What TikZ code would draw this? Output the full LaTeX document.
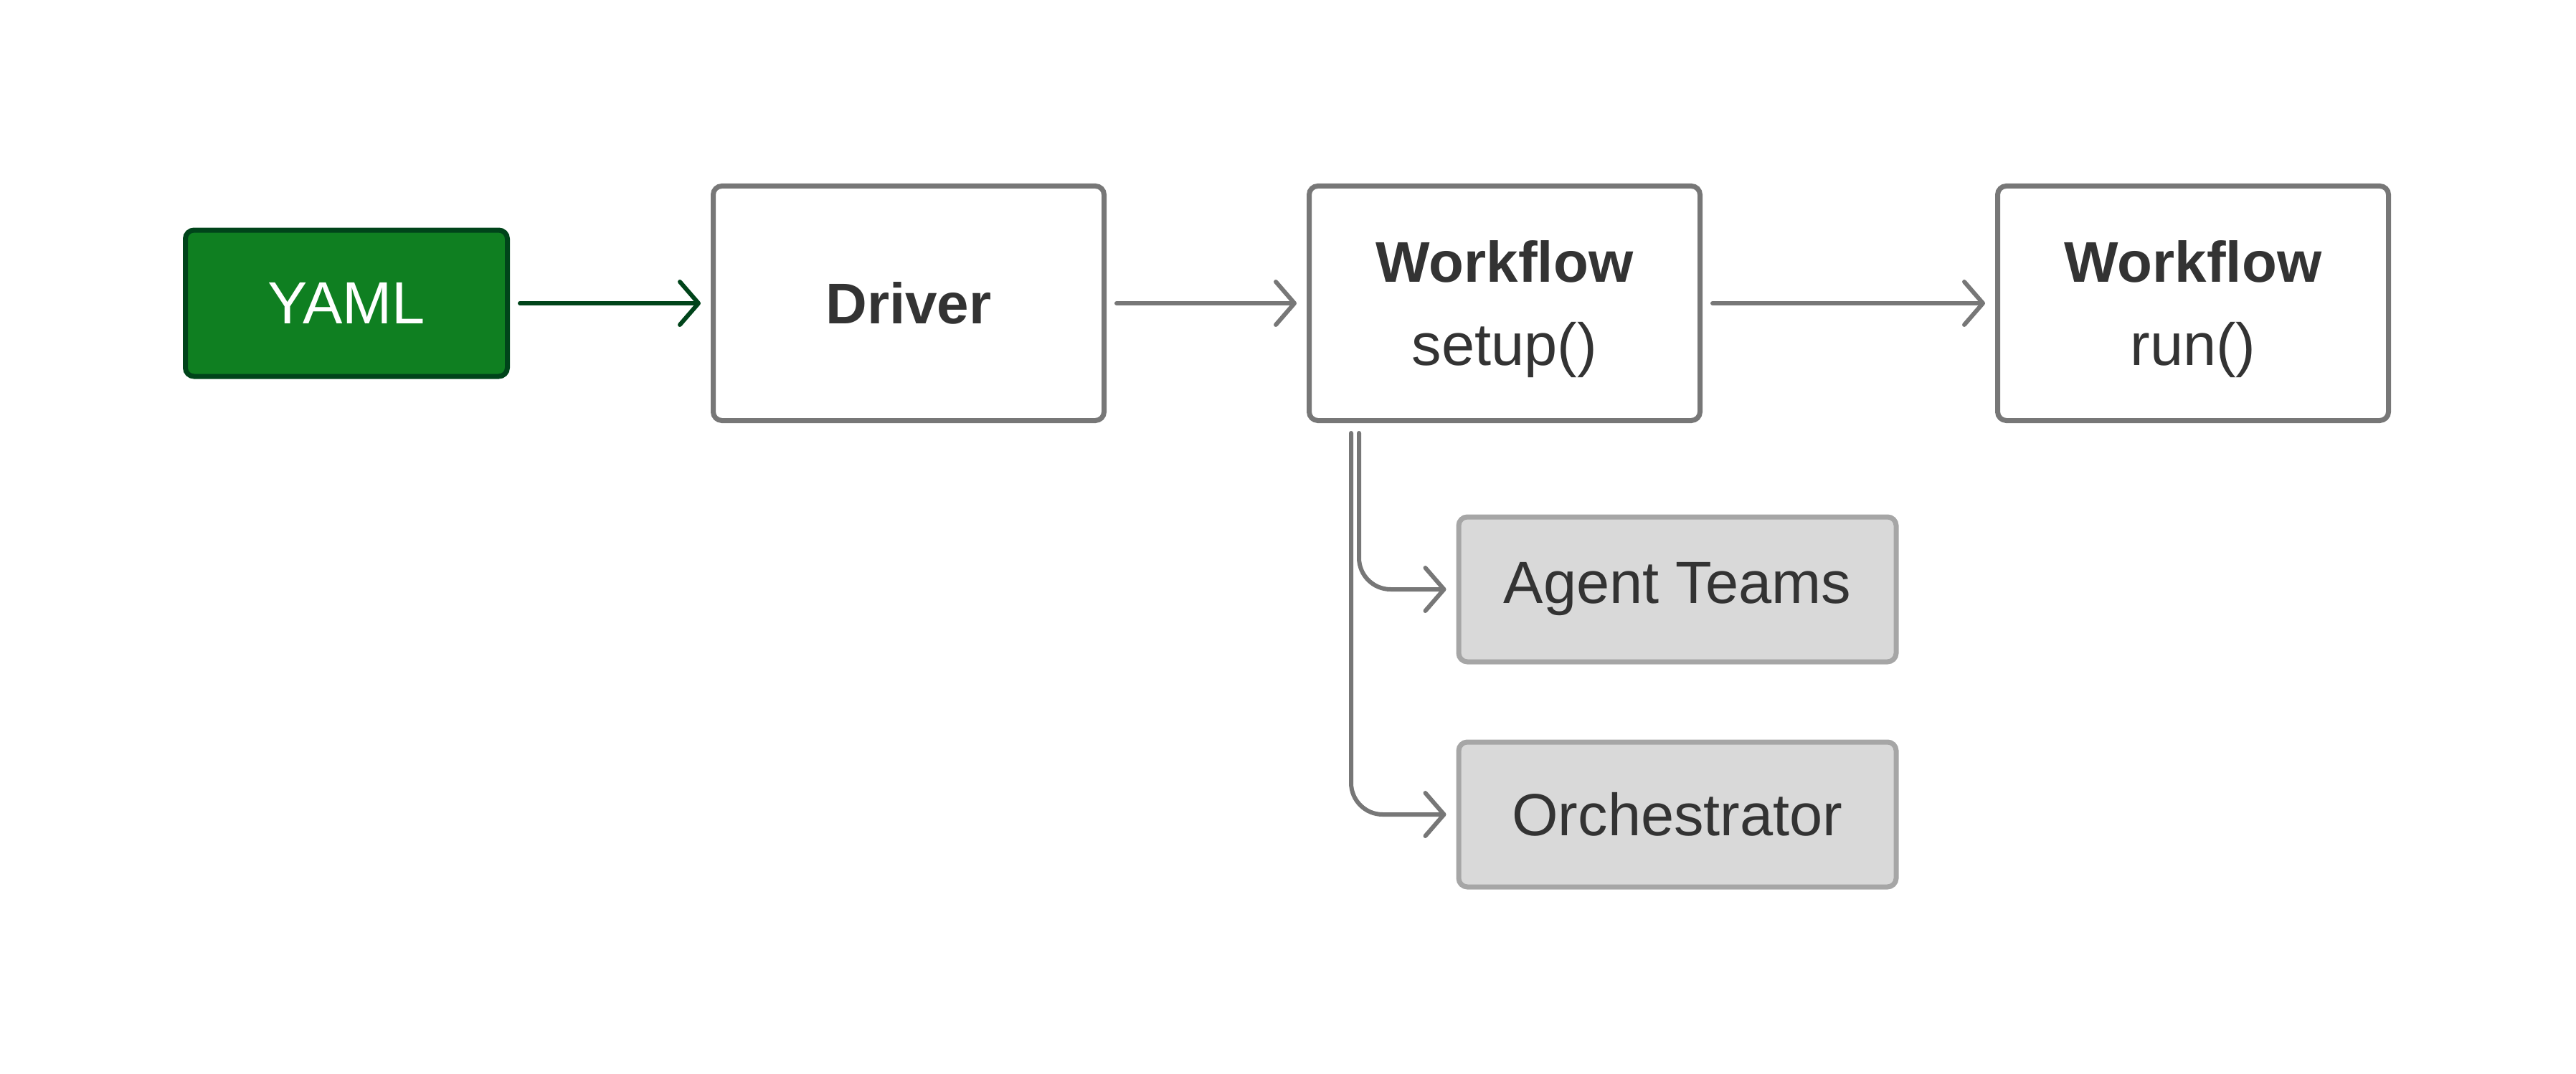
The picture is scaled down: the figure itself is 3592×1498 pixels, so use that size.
\documentclass[tikz,border=0pt]{standalone}
\usepackage{fontspec}
\setmainfont{Liberation Sans}
\usetikzlibrary{arrows.meta}
\definecolor{txt}{HTML}{333333}
\definecolor{edge}{HTML}{777777}
\definecolor{lightfill}{HTML}{D9D9D9}
\definecolor{lightline}{HTML}{A6A6A6}
\definecolor{greenfill}{HTML}{0F7F21}
\definecolor{greenline}{HTML}{00441A}
\newcommand{\regtxt}[1]{{\fontsize{41.5}{58}\selectfont #1}}
\tikzset{
  box/.style={draw=edge, line width=3.5pt, rounded corners=6pt, fill=white,
    text=txt, align=center, inner sep=0pt,
    font=\fontsize{40}{58}\selectfont},
  mainbox/.style={box, minimum width=272.5pt, minimum height=163.5pt},
  subbox/.style={box, draw=lightline, fill=lightfill, minimum width=305pt, minimum height=101pt},
  yamlbox/.style={box, draw=greenline, fill=greenfill, text=white, minimum width=224.5pt, minimum height=102pt},
  conn/.style={draw=edge, line width=3pt, line cap=round,
    -{Straight Barb[length=13pt, width=30pt, line cap=round, line join=round]},
    shorten >=7pt, shorten <=7pt},
  greenconn/.style={conn, draw=greenline}
}
\begin{document}
\begin{tikzpicture}[x=0.5pt, y=-0.5pt]
\useasboundingbox (0,0) rectangle (3592,1498);
\node[yamlbox] (yaml) at (483,423) {\regtxt{YAML}};
\node[mainbox] (driver) at (1267,423) {\textbf{Driver}};
\node[mainbox] (wsetup) at (2098,423) {\rule{0pt}{37pt}\textbf{Workflow}\\\regtxt{setup()}};
\node[mainbox] (wrun) at (3058,423) {\rule{0pt}{37pt}\textbf{Workflow}\\\regtxt{run()}};
\node[subbox] (agent) at (2339,822) {\regtxt{Agent Teams}};
\node[subbox] (orch) at (2339,1136) {\regtxt{Orchestrator}};
\draw[greenconn] (yaml) -- (driver);
\draw[conn] (driver) -- (wsetup);
\draw[conn] (wsetup) -- (wrun);
\coordinate (ba) at ([xshift=36.5pt,yshift=-7pt]wsetup.south west);
\coordinate (bo) at ([xshift=31pt,yshift=-7pt]wsetup.south west);
\draw[conn, shorten <=0pt, rounded corners=22pt] (ba) |- (agent.west);
\draw[conn, shorten <=0pt, rounded corners=22pt] (bo) |- (orch.west);
\end{tikzpicture}
\end{document}
